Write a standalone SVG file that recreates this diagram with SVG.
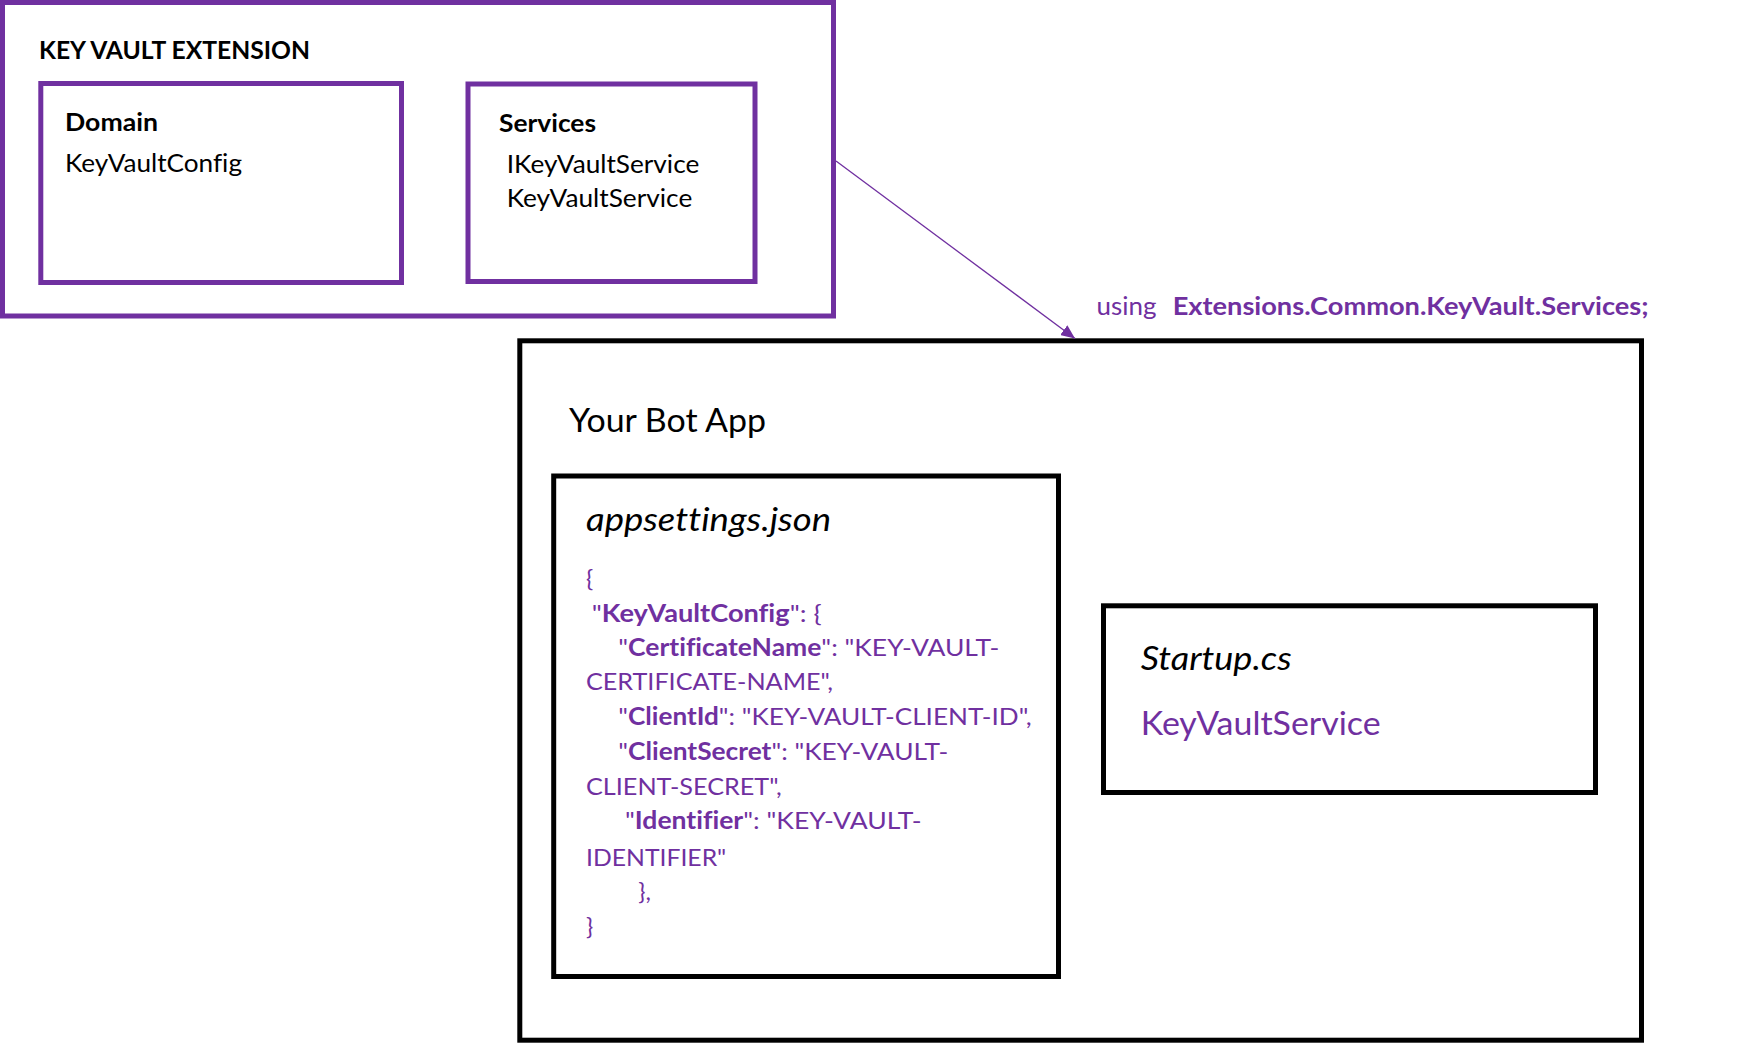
<svg xmlns="http://www.w3.org/2000/svg" width="1757" height="1043" viewBox="0 0 1757 1043">
  <style>
    text { font-family: Lato, "Liberation Sans", sans-serif; font-variant-ligatures: none; }
    .pbox { fill: none; stroke: #7030A0; stroke-width: 5; }
    .kbox { fill: none; stroke: #000000; stroke-width: 5; }
    .hdr { font-size: 25.5px; font-weight: bold; fill: #000; }
    .item { font-size: 25.5px; fill: #000; }
    .big { font-size: 33px; fill: #000; }
    .bigi { font-size: 33px; font-style: italic; fill: #000; }
    .bigp { font-size: 33px; fill: #7030A0; }
    .json { font-size: 24px; fill: #7030A0; }
    .json .b { font-weight: bold; }
    .using { font-size: 25px; fill: #7030A0; }
    .conn { stroke: #7030A0; stroke-width: 1.3; fill: none; }
  </style>
  <defs>
    <marker id="arrow" markerUnits="userSpaceOnUse" markerWidth="14" markerHeight="12" refX="14" refY="6" orient="auto">
      <path d="M0,0 L14,6 L0,12 z" fill="#7030A0"/>
    </marker>
  </defs>
  <rect width="1757" height="1043" fill="#ffffff"/>

  <g id="key-vault-extension">
    <rect class="pbox" x="2.5" y="2.5" width="831" height="313.5"/>
    <text class="hdr" x="39" y="59" textLength="271" lengthAdjust="spacingAndGlyphs">KEY VAULT EXTENSION</text>
  </g>

  <g id="domain">
    <rect class="pbox" x="40.8" y="83.5" width="360.7" height="199"/>
    <text class="hdr" x="65" y="131" textLength="93" lengthAdjust="spacingAndGlyphs">Domain</text>
    <text class="item" x="65" y="171.5" textLength="177" lengthAdjust="spacingAndGlyphs">KeyVaultConfig</text>
  </g>

  <g id="services">
    <rect class="pbox" x="468" y="84" width="287" height="197.5"/>
    <text class="hdr" x="499" y="132" textLength="97" lengthAdjust="spacingAndGlyphs">Services</text>
    <text class="item" x="506.7" y="172.7" textLength="192.6" lengthAdjust="spacingAndGlyphs">IKeyVaultService</text>
    <text class="item" x="506.7" y="206.7" textLength="185.6" lengthAdjust="spacingAndGlyphs">KeyVaultService</text>
  </g>

  <g id="your-bot-app">
    <rect class="kbox" x="519.8" y="340.8" width="1121.7" height="699.4"/>
    <text class="big" x="569" y="432.3" textLength="197" lengthAdjust="spacingAndGlyphs">Your Bot App</text>
  </g>

  <g id="appsettings">
    <rect class="kbox" x="553.7" y="476" width="504.8" height="500.5"/>
    <text class="bigi" x="586" y="530.7" textLength="245" lengthAdjust="spacingAndGlyphs">appsettings.json</text>
    <g class="json">
      <text x="586" y="587">{</text>
      <text x="591.7" y="621.7" textLength="230" lengthAdjust="spacingAndGlyphs">"<tspan class="b">KeyVaultConfig</tspan>": {</text>
      <text x="618.3" y="655.7" textLength="381" lengthAdjust="spacingAndGlyphs">"<tspan class="b">CertificateName</tspan>": "KEY-VAULT-</text>
      <text x="586" y="690.4" textLength="247" lengthAdjust="spacingAndGlyphs">CERTIFICATE-NAME",</text>
      <text x="618.3" y="725.1" textLength="413.4" lengthAdjust="spacingAndGlyphs">"<tspan class="b">ClientId</tspan>": "KEY-VAULT-CLIENT-ID",</text>
      <text x="618.3" y="759.8" textLength="330" lengthAdjust="spacingAndGlyphs">"<tspan class="b">ClientSecret</tspan>": "KEY-VAULT-</text>
      <text x="586" y="794.5" textLength="195.7" lengthAdjust="spacingAndGlyphs">CLIENT-SECRET",</text>
      <text x="625" y="829.2" textLength="296.7" lengthAdjust="spacingAndGlyphs">"<tspan class="b">Identifier</tspan>": "KEY-VAULT-</text>
      <text x="586" y="865.5" textLength="140.3" lengthAdjust="spacingAndGlyphs">IDENTIFIER"</text>
      <text x="638.3" y="900">},</text>
      <text x="586" y="935">}</text>
    </g>
  </g>

  <g id="startup">
    <rect class="kbox" x="1103.5" y="605.8" width="492" height="186.7"/>
    <text class="bigi" x="1140.7" y="670" textLength="151" lengthAdjust="spacingAndGlyphs">Startup.cs</text>
    <text class="bigp" x="1140.7" y="735" textLength="240" lengthAdjust="spacingAndGlyphs">KeyVaultService</text>
  </g>

  <g id="connectors">
    <line class="conn" x1="836" y1="161" x2="1075" y2="338.5" marker-end="url(#arrow)"/>
    <text class="using" x="1096.5" y="315" textLength="60" lengthAdjust="spacingAndGlyphs">using</text>
    <text class="using" x="1172.7" y="315" font-weight="bold" textLength="476" lengthAdjust="spacingAndGlyphs">Extensions.Common.KeyVault.Services;</text>
  </g>
</svg>
